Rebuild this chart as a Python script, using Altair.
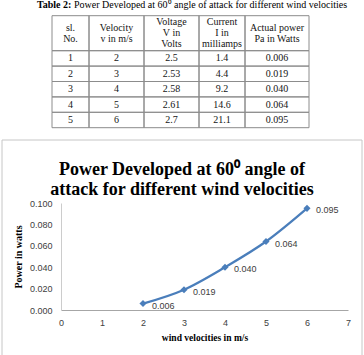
import altair as alt
import pandas as pd

# ---- Table 2 readings: 60 degree angle of attack ----
SL_NO = [1, 2, 3, 4, 5]
VELOCITY = [2, 3, 4, 5, 6]                       # m/s
VOLTAGE = [2.5, 2.53, 2.58, 2.61, 2.7]           # V
CURRENT_MA = [1.4, 4.4, 9.2, 14.6, 21.1]         # mA
POWER_W = [0.006, 0.019, 0.040, 0.064, 0.095]    # W

HEADERS = [
    ["sl.", "No."],
    ["Velocity", "v in m/s"],
    ["Voltage", "V in", "Volts"],
    ["Current", "I in", "milliamps"],
    ["Actual power", "Pa in Watts"],
]
CAPTION_BOLD = "Table 2:"
CAPTION_TEXT = "Power Developed at 60\u2070 angle of attack for different wind velocities"
CHART_TITLE = "Power Developed at 60\u2070 angle of\nattack for different wind velocities"

X_TICKS = [0, 1, 2, 3, 4, 5, 6, 7]
Y_TICKS = [0.0, 0.02, 0.04, 0.06, 0.08, 0.10]

# ---- layout (pixels) ----
PLOT_W, PLOT_H = 287, 107
PAD = {"left": 61, "top": 203, "right": 16, "bottom": 45}
COL_W = [37, 55, 55, 46, 64]
HEAD_H, ROW_H, HEAD_LINE = 35, 15.4, 11
TABLE_X0, TABLE_Y0 = 52 - PAD["left"], 15.7 - PAD["top"]

BLUE = "#4A7EBB"
GRID = "#8c8c8c"
SERIF = "Liberation Serif"
SANS = "Liberation Sans"

# ---- table cells ----
edges = [0]
for w in COL_W:
    edges.append(edges[-1] + w)
total_w = edges[-1]
total_h = HEAD_H + ROW_H * len(SL_NO)

columns = [
    [str(v) for v in SL_NO],
    [str(v) for v in VELOCITY],
    [str(v) for v in VOLTAGE],
    [str(v) for v in CURRENT_MA],
    [f"{v:.3f}" for v in POWER_W],
]

boxes, texts = [], []
for c, head in enumerate(HEADERS):
    xc = (edges[c] + edges[c + 1]) / 2
    boxes.append({"x0": edges[c], "x1": edges[c + 1], "y0": 0, "y1": HEAD_H})
    n = len(head)
    for i, line in enumerate(head):
        texts.append({"xc": xc, "yc": HEAD_H / 2 + (i - (n - 1) / 2) * HEAD_LINE, "label": line})
    for r, val in enumerate(columns[c]):
        y0 = HEAD_H + r * ROW_H
        boxes.append({"x0": edges[c], "x1": edges[c + 1], "y0": y0, "y1": y0 + ROW_H})
        texts.append({"xc": xc, "yc": y0 + ROW_H / 2, "label": val})
boxes = pd.DataFrame(boxes)
texts = pd.DataFrame(texts)

tx = alt.Scale(domain=[0, total_w], range=[TABLE_X0, TABLE_X0 + total_w], nice=False, zero=False)
ty = alt.Scale(domain=[0, total_h], range=[TABLE_Y0, TABLE_Y0 + total_h], nice=False, zero=False)

cell_boxes = alt.Chart(boxes).mark_rect(fillOpacity=0, stroke=GRID, strokeWidth=1).encode(
    x=alt.X("x0:Q", scale=tx, axis=None),
    x2="x1:Q",
    y=alt.Y("y0:Q", scale=ty, axis=None),
    y2="y1:Q",
)
cell_text = alt.Chart(texts).mark_text(
    font=SERIF, fontSize=10, align="center", baseline="middle", color="#151515",
).encode(
    x=alt.X("xc:Q", scale=tx, axis=None),
    y=alt.Y("yc:Q", scale=ty, axis=None),
    text="label:N",
)
table = alt.layer(cell_boxes, cell_text)

# ---- captions and frame ----
one = pd.DataFrame({"k": [0]})

caption_bold = alt.Chart(one).mark_text(
    text=CAPTION_BOLD, font=SERIF, fontSize=10, fontWeight="bold",
    align="left", baseline="middle", color="black",
).encode(x=alt.value(37 - PAD["left"]), y=alt.value(5 - PAD["top"]))

caption_rest = alt.Chart(one).mark_text(
    text=CAPTION_TEXT, font=SERIF, fontSize=10,
    align="left", baseline="middle", color="black",
).encode(x=alt.value(74 - PAD["left"]), y=alt.value(5 - PAD["top"]))

frame = alt.Chart(one).mark_rect(fillOpacity=0, stroke="#c6c6c6", strokeWidth=1).encode(
    x=alt.value(2 - PAD["left"]), x2=alt.value(362 - PAD["left"]),
    y=alt.value(140 - PAD["top"]), y2=alt.value(420 - PAD["top"]),
)

chart_title = alt.Chart(one).mark_text(
    text=CHART_TITLE, font=SERIF, fontSize=18, fontWeight="bold",
    lineBreak="\n", lineHeight=20, align="center", baseline="middle", color="black",
).encode(x=alt.value(182 - PAD["left"]), y=alt.value(170 - PAD["top"]))

# ---- power curve ----
power = pd.DataFrame({"velocity": VELOCITY, "power": POWER_W})

x_axis = alt.Axis(
    values=X_TICKS, format="d", grid=False, ticks=False, labelFlush=False,
    domainColor="#a6a6a6", labelFont=SANS, labelFontSize=9, labelColor="#404040",
    labelPadding=8, title="wind velocities in m/s", titleFont=SERIF,
    titleFontSize=9.5, titleFontWeight="bold", titleColor="black", titlePadding=5,
)
y_axis = alt.Axis(
    values=Y_TICKS, format=".3f", grid=False, ticks=False, labelFlush=False,
    domainColor="#cccccc", labelFont=SANS, labelFontSize=9, labelColor="#404040",
    labelPadding=9, title="Power in watts", titleFont=SERIF,
    titleFontSize=10, titleFontWeight="bold", titleColor="black", titlePadding=6,
)

base = alt.Chart(power).encode(
    x=alt.X("velocity:Q", scale=alt.Scale(domain=[0, 7], nice=False), axis=x_axis),
    y=alt.Y("power:Q", scale=alt.Scale(domain=[0, 0.1], nice=False), axis=y_axis),
)
curve = base.mark_line(interpolate="monotone", color=BLUE, strokeWidth=2.25)
markers = base.mark_point(shape="diamond", filled=True, size=50, color=BLUE, opacity=1)
values = base.mark_text(
    align="left", baseline="middle", dx=9, dy=2,
    font=SANS, fontSize=9, color="#404040",
).encode(text=alt.Text("power:Q", format=".3f"))

plot = alt.layer(curve, markers, values)

chart = alt.layer(
    frame, caption_bold, caption_rest, table, chart_title, plot
).resolve_scale(
    x="independent", y="independent"
).properties(
    width=PLOT_W, height=PLOT_H,
    autosize=alt.AutoSizeParams(type="none"),
    padding=PAD,
    background="white",
).configure_view(strokeWidth=0)

chart.save("out.html", embed_options={"renderer": "svg", "actions": False})
